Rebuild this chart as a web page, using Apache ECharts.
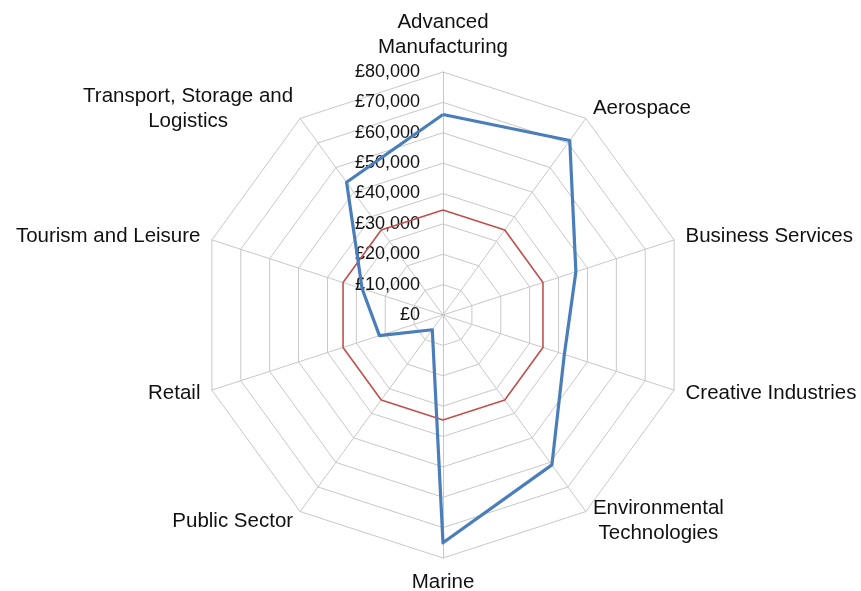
<!DOCTYPE html>
<html>
<head>
<meta charset="utf-8">
<script src="https://cdn.jsdelivr.net/npm/echarts@6/dist/echarts.min.js"></script>
<style>
  html, body { margin: 0; padding: 0; background: #fff; }
  #chart { width: 861px; height: 591px; }
</style>
</head>
<body>
<div id="chart"></div>
<script>
// Sectors, listed clockwise starting from the top spoke
const categories = [
  'Advanced\nManufacturing',
  'Aerospace',
  'Business Services',
  'Creative Industries',
  'Environmental\nTechnologies',
  'Marine',
  'Public Sector',
  'Retail',
  'Tourism and Leisure',
  'Transport, Storage and\nLogistics'
];

// Sector salary values (£)
const sectorValues = [66000, 71000, 46000, 42000, 61000, 75000, 6000, 22000, 28000, 54000];

// Reference level, same for every sector (£)
const referenceValues = [34600, 34600, 34600, 34600, 34600, 34600, 34600, 34600, 34600, 34600];

// Value axis range and step
const axisMin = 0;
const axisMax = 80000;
const axisStep = 10000;

// ECharts lays indicators out anticlockwise; keep the first one at the top
// and reverse the rest so the sectors read clockwise.
function drawOrder(arr) {
  return [arr[0]].concat(arr.slice(1).reverse());
}

const FONT = 'Liberation Sans, Arial, sans-serif';

const indicators = drawOrder(categories).map(function (name, i) {
  const ind = { name: name, min: axisMin, max: axisMax };
  if (i === 0) {
    // value labels only along the top spoke
    ind.axisLabel = {
      show: true,
      margin: 23,
      fontSize: 18,
      fontFamily: FONT,
      color: '#111',
      formatter: function (v) { return '£' + v.toLocaleString('en-GB'); }
    };
  }
  return ind;
});

const chart = echarts.init(document.getElementById('chart'), null, { renderer: 'canvas' });

chart.setOption({
  animation: false,
  backgroundColor: '#ffffff',
  radar: {
    center: [443, 315],
    radius: 243,
    startAngle: 90,
    splitNumber: (axisMax - axisMin) / axisStep,
    shape: 'polygon',
    indicator: indicators,
    axisNameGap: 12,
    axisName: {
      color: '#111',
      fontSize: 20.5,
      fontFamily: FONT,
      // centre each line of a multi-line sector name
      formatter: function (name) {
        return name.split('\n').map(function (l) { return '{c|' + l + '}'; }).join('\n');
      },
      rich: {
        c: {
          align: 'center',
          fontSize: 20.5,
          lineHeight: 25,
          color: '#111',
          fontFamily: FONT
        }
      }
    },
    axisLabel: { show: false },
    axisTick: { show: false },
    axisLine: { lineStyle: { color: '#c8c8c8', width: 1 } },
    splitLine: { lineStyle: { color: '#c8c8c8', width: 1 } },
    splitArea: { show: false }
  },
  series: [
    {
      type: 'radar',
      symbol: 'none',
      z: 2,
      lineStyle: { color: '#c0504d', width: 1.6 },
      itemStyle: { color: '#c0504d' },
      data: [{ value: drawOrder(referenceValues), name: 'Reference' }]
    },
    {
      type: 'radar',
      symbol: 'none',
      z: 3,
      lineStyle: { color: '#4a7ebb', width: 3.2 },
      itemStyle: { color: '#4a7ebb' },
      data: [{ value: drawOrder(sectorValues), name: 'Sector' }]
    }
  ]
});
</script>
</body>
</html>
